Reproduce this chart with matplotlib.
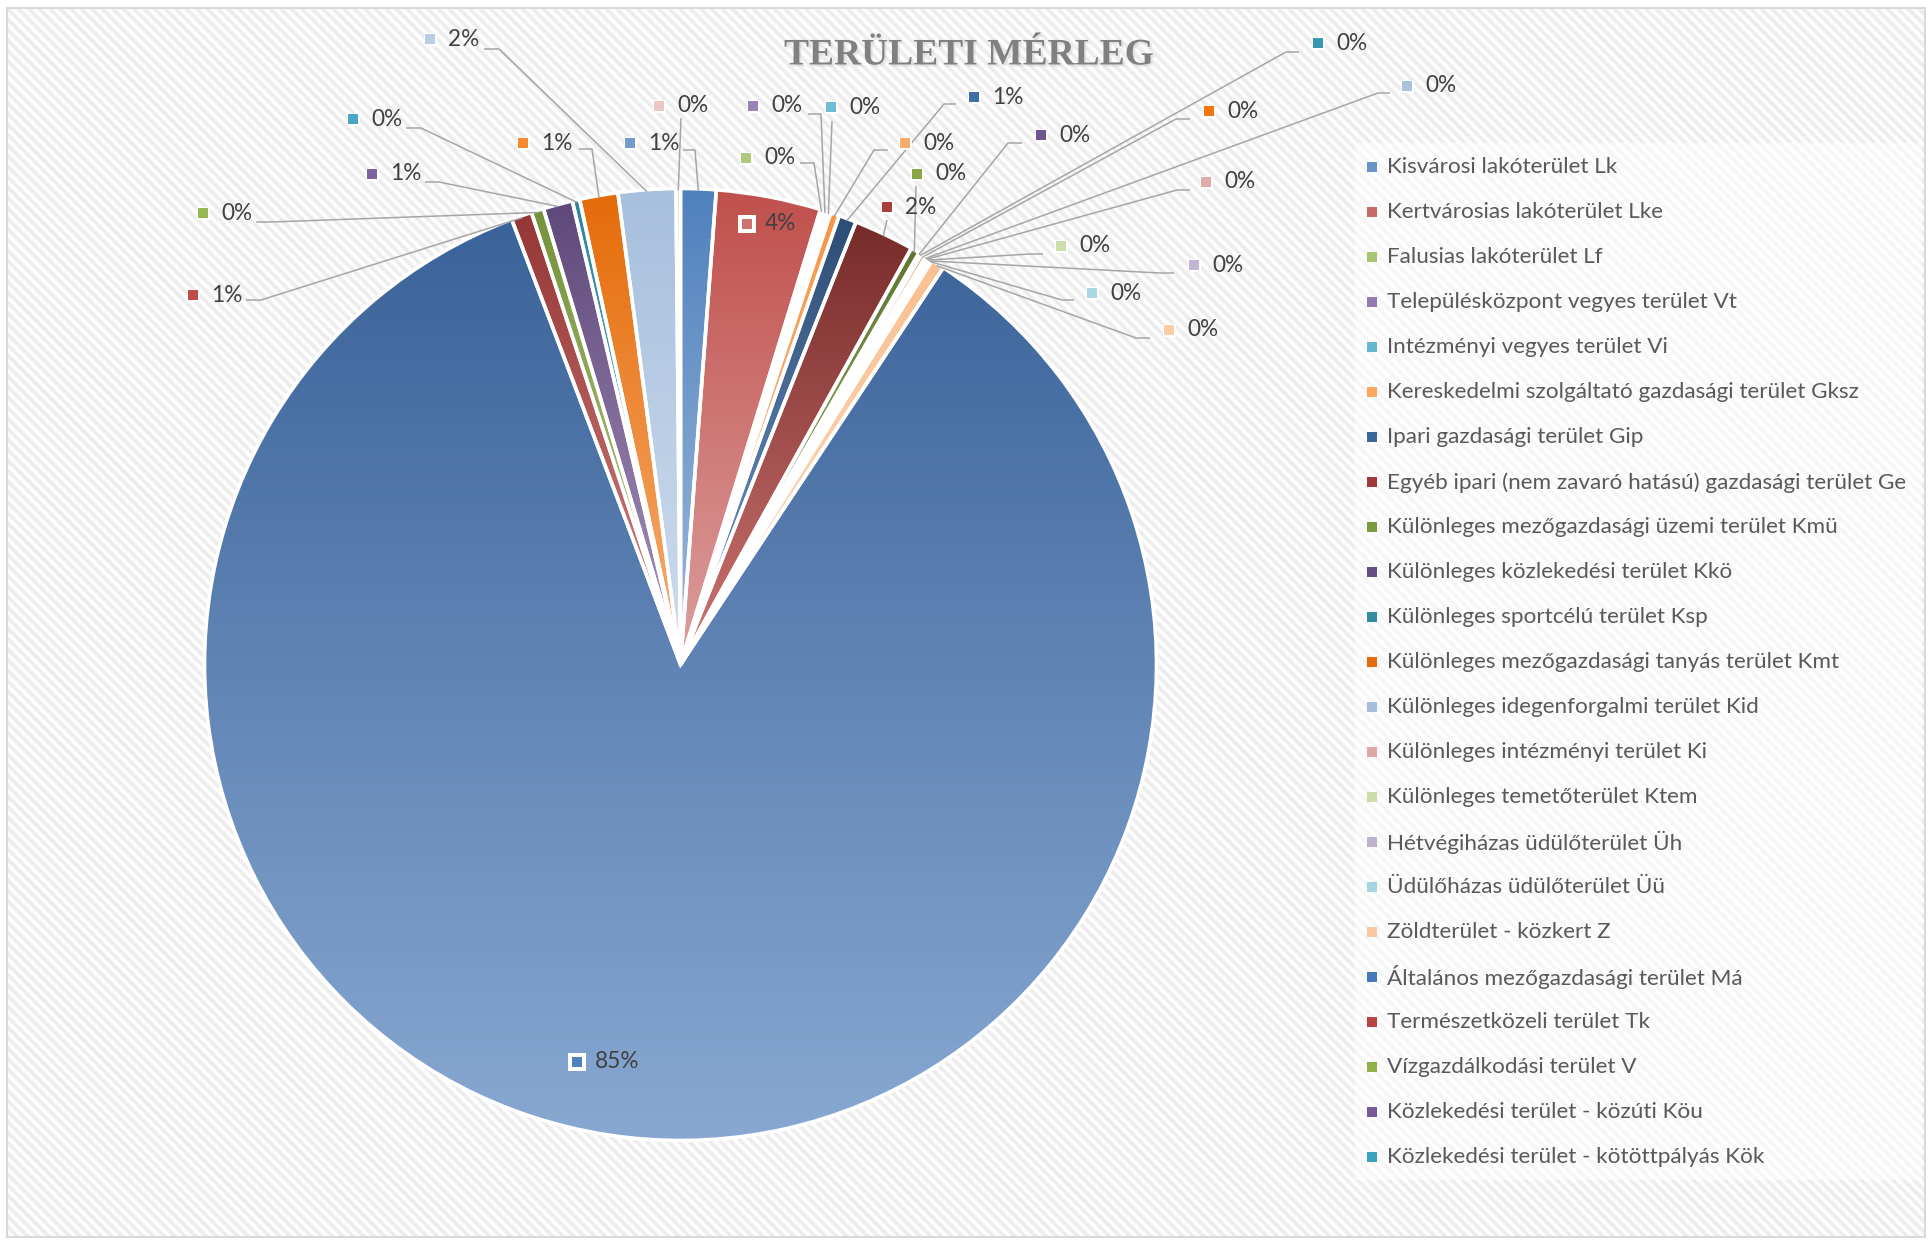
import colorsys
import numpy as np
import matplotlib
matplotlib.use("Agg")
import matplotlib.pyplot as plt
import matplotlib.patheffects as pe
from matplotlib.colors import to_rgb
from matplotlib.patches import Rectangle, Wedge

W, H = 1930, 1240

categories = [
    "Kisvárosi lakóterület Lk",
    "Kertvárosias lakóterület Lke",
    "Falusias lakóterület Lf",
    "Településközpont vegyes terület Vt",
    "Intézményi vegyes terület Vi",
    "Kereskedelmi szolgáltató gazdasági terület Gksz",
    "Ipari gazdasági terület Gip",
    "Egyéb ipari (nem zavaró hatású) gazdasági terület Ge",
    "Különleges mezőgazdasági üzemi terület Kmü",
    "Különleges közlekedési terület Kkö",
    "Különleges sportcélú terület Ksp",
    "Különleges mezőgazdasági tanyás terület Kmt",
    "Különleges idegenforgalmi terület Kid",
    "Különleges intézményi terület Ki",
    "Különleges temetőterület Ktem",
    "Hétvégiházas üdülőterület Üh",
    "Üdülőházas üdülőterület Üü",
    "Zöldterület - közkert Z",
    "Általános mezőgazdasági terület Má",
    "Természetközeli terület Tk",
    "Vízgazdálkodási terület V",
    "Közlekedési terület - közúti Köu",
    "Közlekedési terület - kötöttpályás Kök",
    # the legend in the original is cut off after the 23rd entry
    "Védelmi erdőterület Ev",
    "Gazdasági erdőterület Eg",
    "Közjóléti erdőterület Ek",
]

# share of the total area, %
shares = [1.2, 3.55, 0.12, 0.12, 0.12, 0.3, 0.6, 2.05, 0.3, 0.05, 0.05, 0.15,
          0.05, 0.05, 0.05, 0.05, 0.05, 0.45, 84.92, 0.7, 0.42, 1.0, 0.25,
          1.3, 1.95, 0.15]

colors = ["#4F81BD", "#C0504D", "#9BBB59", "#8064A2", "#4BACC6", "#F79646",
          "#2C4D75", "#772C2A", "#5F7530", "#4D3B62", "#276A7C", "#B65708",
          "#95B3D7", "#D99694", "#C3D69B", "#B3A2C7", "#93CDDD", "#FAC090",
          "#3A6399", "#953735", "#76923C", "#5F497A", "#31859C", "#E46C0A",
          "#A7C0DE", "#E6B9B8"]

n_legend = 23

# label placement (pixels from top-left): key square centre, leader-line points
label_pos = [
    ((630, 143), [(683, 150), (695, 150)]),
    ((747, 224), None),
    ((746, 158), [(800, 163), (814, 163)]),
    ((753, 106), [(808, 114), (821, 114)]),
    ((831, 107), [(832, 121)]),
    ((905, 143), [(888, 150), (874, 150)]),
    ((974, 97), [(956, 104), (944, 104)]),
    ((887, 207), [(887, 220)]),
    ((917, 174), [(916, 186)]),
    ((1041, 135), [(1022, 143), (1008, 143)]),
    ((1318, 43), [(1299, 52), (1286, 52)]),
    ((1209, 111), [(1190, 119), (1176, 119)]),
    ((1407, 86), [(1390, 93), (1378, 93)]),
    ((1206, 182), [(1190, 190), (1177, 190)]),
    ((1061, 246), [(1043, 254), (1030, 254)]),
    ((1194, 265), [(1174, 273), (1160, 273)]),
    ((1092, 293), [(1074, 300), (1062, 300)]),
    ((1169, 330), [(1150, 338), (1136, 338)]),
    ((577, 1062), None),
    ((193, 295), [(246, 300), (261, 300)]),
    ((203, 213), [(256, 222), (271, 222)]),
    ((372, 174), [(425, 182), (439, 182)]),
    ((353, 119), [(406, 128), (421, 128)]),
    ((523, 143), [(579, 149), (592, 149)]),
    ((430, 39), [(484, 49), (499, 49)]),
    ((659, 106), [(681, 118)]),
]

FONT = ["Lato", "DejaVu Sans"]


def lighten(c, f):
    h, l, s = colorsys.rgb_to_hls(*to_rgb(c))
    return colorsys.hls_to_rgb(h, l + (1 - l) * f, s)


def yy(y):
    # picture rows -> data y
    return H - y


fig = plt.figure(figsize=(W / 100, H / 100), dpi=100)
fig.patch.set_facecolor("white")
ax = fig.add_axes([0, 0, 1, 1])

# striped chart area
x0, x1, y0, y1 = 7, 1925, 8, 1237
gx, gy = np.meshgrid(np.arange(x1 - x0), np.arange(y1 - y0))
stripes = 1 - 0.08 * (0.5 + 0.5 * np.cos(2 * np.pi * (gx - gy) / 10.5))
ax.imshow(stripes, cmap="gray", vmin=0, vmax=1, extent=[x0, x1, yy(y1), yy(y0)],
          origin="upper", interpolation="bilinear", zorder=0)
ax.add_patch(Rectangle((x0, yy(y1)), x1 - x0, y1 - y0, fill=False,
                       edgecolor="#d9d9d9", lw=1.5, zorder=1))
# legend box (lighter)
ax.add_patch(Rectangle((1355, yy(1180)), 567, 1180 - 143, facecolor="white",
                       alpha=0.55, lw=0, zorder=1))

cx, cy, R = 680.5, yy(664.5), 476
wedges, _ = ax.pie(shares, colors=colors, startangle=90, counterclock=False,
                   center=(cx, cy), radius=R, normalize=True,
                   wedgeprops=dict(edgecolor="none", linewidth=0))

for w, c in zip(wedges, colors):
    th = np.radians(np.linspace(w.theta1, w.theta2, 60))
    xs = np.r_[cx, cx + R * np.cos(th)]
    ys = np.r_[cy, cy + R * np.sin(th)]
    grad = np.linspace(to_rgb(c), lighten(c, 0.45), 64)[:, None, :]
    im = ax.imshow(grad, extent=[xs.min(), xs.max(), ys.min(), ys.max()],
                   origin="upper", aspect="auto", interpolation="bilinear", zorder=2)
    im.set_clip_path(w)
    w.set_facecolor("none")
    w.set_zorder(2)
    ax.add_patch(Wedge((cx, cy), R, w.theta1, w.theta2, fill=False,
                       edgecolor="white", lw=2.6, zorder=3))

# data labels
total = sum(shares)
for i, (w, c) in enumerate(zip(wedges, colors)):
    (kx, ky), pts = label_pos[i]
    txt = f"{int(shares[i] / total * 100 + 0.5)}%"
    if pts is None:
        ax.add_patch(Rectangle((kx - 9, yy(ky) - 9), 18, 18, facecolor="white",
                               lw=0, zorder=4))
        ax.add_patch(Rectangle((kx - 5, yy(ky) - 5), 10, 10,
                               facecolor=lighten(c, 0.2), lw=0, zorder=5))
    else:
        ax.add_patch(Rectangle((kx - 6.5, yy(ky) - 6.5), 13, 13, facecolor="white",
                               lw=0, zorder=4))
        ax.add_patch(Rectangle((kx - 5, yy(ky) - 5), 10, 10,
                               facecolor=lighten(c, 0.2), lw=0, zorder=5))
        mid = np.radians((w.theta1 + w.theta2) / 2)
        lx = [p[0] for p in pts] + [cx + (R - 2) * np.cos(mid)]
        ly = [yy(p[1]) for p in pts] + [cy + (R - 2) * np.sin(mid)]
        ax.plot(lx, ly, color="#a6a6a6", lw=1.1, zorder=3.5,
                solid_capstyle="butt")
    ax.text(kx + 18, yy(ky), txt, ha="left", va="center", fontsize=16.3,
            family=FONT, color="#404040", zorder=6)

# legend
for i in range(n_legend):
    ly = 167.4 + 44.98 * i
    ax.add_patch(Rectangle((1367, yy(ly) - 5), 10, 10,
                           facecolor=lighten(colors[i], 0.15), lw=0, zorder=5))
    ax.text(1387, yy(ly), categories[i], ha="left", va="center", fontsize=16.2,
            family=FONT, color="#595959", zorder=6)

ax.text(969, yy(55), "TERÜLETI MÉRLEG", ha="center", va="center", fontsize=27,
        fontweight="bold", family=["Liberation Serif", "DejaVu Serif"],
        color="#808080", zorder=6,
        path_effects=[pe.withSimplePatchShadow(offset=(1.5, -1.5),
                                               shadow_rgbFace="#c0c0c0", alpha=0.35)])

ax.set_xlim(0, W)
ax.set_ylim(0, H)
ax.set_aspect("auto")
ax.axis("off")

fig.savefig("out.png", dpi=100)
